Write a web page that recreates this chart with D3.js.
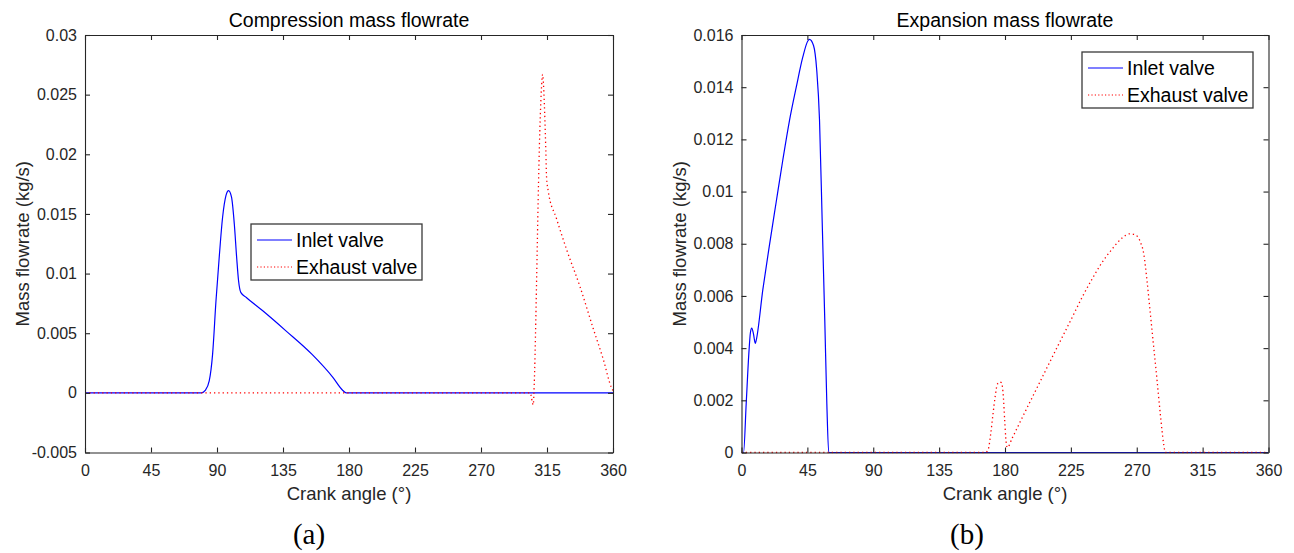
<!DOCTYPE html>
<html>
<head>
<meta charset="utf-8">
<script src="https://cdn.jsdelivr.net/npm/d3@7"></script>
<style>
  html, body { margin: 0; padding: 0; background: #fff; }
  svg { display: block; }
  text { font-family: "Liberation Sans", Arial, sans-serif; }
</style>
</head>
<body>
<svg id="chart" width="1294" height="553"></svg>
<script>
// ---------- data ----------
const xTicks = [0, 45, 90, 135, 180, 225, 270, 315, 360];
const compYTicks = [-0.005, 0, 0.005, 0.01, 0.015, 0.02, 0.025, 0.03];
const compYLabels = ["-0.005", "0", "0.005", "0.01", "0.015", "0.02", "0.025", "0.03"];
const expYTicks = [0, 0.002, 0.004, 0.006, 0.008, 0.01, 0.012, 0.014, 0.016];
const expYLabels = ["0", "0.002", "0.004", "0.006", "0.008", "0.01", "0.012", "0.014", "0.016"];

const seriesNames = ["Inlet valve", "Exhaust valve"];

// Compression - inlet valve
const compInletAngle = [0, 79.5, 82, 84.7, 87, 89.3, 91.5, 93.8, 96.1, 97.9, 99.9, 101.8, 103.4, 104.7, 106.3, 110, 121, 137, 155, 169, 175.8, 178, 360];
const compInletFlow  = [0, 0, 0.0002, 0.001, 0.00325, 0.0077, 0.01135, 0.0147, 0.01653, 0.01695, 0.0164, 0.01415, 0.01135, 0.0094, 0.0084, 0.008, 0.0069, 0.0052, 0.0032, 0.0013, 0.0002, 0, 0];
// Compression - exhaust valve
const compExhaustAngle = [0, 303.5, 305.6, 306.3, 307.4, 308.3, 309.2, 310.4, 311.2, 312, 313.1, 314.2, 314.7, 315.8, 321.5, 328.4, 337.5, 346.5, 353.4, 359.1, 360];
const compExhaustFlow  = [0, 0, -0.001, 0.0007, 0.0063, 0.0119, 0.0175, 0.0231, 0.0255, 0.0267, 0.0245, 0.0203, 0.0181, 0.01695, 0.0146, 0.0120, 0.0089, 0.0054, 0.0028, 0.0004, 0.0002];

// Expansion - inlet valve
const expInletAngle = [0, 1.4, 3.2, 5.0, 6.1, 7.0, 8.2, 9.4, 10.0, 14.6, 19.1, 23.7, 28.2, 32.8, 37.4, 41.9, 45.3, 46.4, 49.2, 51.4, 53.3, 55.1, 56.9, 58.3, 59.6, 360];
const expInletFlow  = [0, 0, 0.00186, 0.00378, 0.0046, 0.00477, 0.00454, 0.00418, 0.00429, 0.00625, 0.00795, 0.0096, 0.0112, 0.01273, 0.014, 0.01516, 0.01577, 0.01583, 0.0156, 0.01465, 0.01273, 0.00889, 0.00505, 0.00186, 0, 0];
// Expansion - exhaust valve
const expExhaustAngle = [0, 166.8, 168.6, 170.2, 171.8, 173.2, 174.8, 176.4, 177.7, 178.9, 179.8, 180.5, 181.6, 185, 191.8, 198.6, 205.5, 212.3, 219.1, 225.9, 232.7, 239.5, 246.4, 253.2, 260, 265.2, 269.1, 272.5, 274.8, 277, 279.3, 281.6, 283.9, 286.1, 288.4, 289.5, 360];
const expExhaustFlow  = [0, 0, 0.00013, 0.0007, 0.00147, 0.00211, 0.00262, 0.0027, 0.00267, 0.00211, 0.00122, 0.00058, 0.00019, 0.00056, 0.00134, 0.00211, 0.00289, 0.00366, 0.00442, 0.00518, 0.00595, 0.00665, 0.00729, 0.0078, 0.00822, 0.00838, 0.00834, 0.00806, 0.00761, 0.00659, 0.00531, 0.00403, 0.00275, 0.00147, 0.00032, 0, 0];

// ---------- drawing ----------
const svg = d3.select("#chart");
svg.append("rect").attr("width", 1294).attr("height", 553).attr("fill", "#fff");

const AX = "#262626";

function zip(a, v) { return a.map((d, i) => [d, v[i]]); }

function panel(opts) {
  const { left, right, top, bottom, yDomain, yTicks, yLabels, title, inlet, exhaust, legend, tag, tagX } = opts;
  const x = d3.scaleLinear().domain([0, 360]).range([left, right]);
  const y = d3.scaleLinear().domain(yDomain).range([bottom, top]);
  const g = svg.append("g");
  const clipId = "clip" + Math.round(left);
  svg.append("clipPath").attr("id", clipId).append("rect")
    .attr("x", left).attr("y", top - 1).attr("width", right - left).attr("height", bottom - top + 2);

  // lines
  const line = d3.line().x(d => x(d[0])).y(d => y(d[1])).curve(d3.curveMonotoneX);
  g.append("path").datum(inlet).attr("d", line)
    .attr("fill", "none").attr("stroke", "#0000ff").attr("stroke-width", 1.2)
    .attr("clip-path", `url(#${clipId})`);
  g.append("path").datum(exhaust).attr("d", line)
    .attr("fill", "none").attr("stroke", "#ff0000").attr("stroke-width", 1.3)
    .attr("stroke-dasharray", "1.3,3")
    .attr("clip-path", `url(#${clipId})`);

  // axes
  const fmtY = d => yLabels[yTicks.indexOf(d)];
  const axB = g.append("g").attr("transform", `translate(0,${bottom})`)
    .call(d3.axisBottom(x).tickValues(xTicks).tickSize(-5).tickSizeOuter(0).tickPadding(12));
  const axT = g.append("g").attr("transform", `translate(0,${top})`)
    .call(d3.axisTop(x).tickValues(xTicks).tickSize(-5).tickSizeOuter(0).tickFormat(""));
  const axL = g.append("g").attr("transform", `translate(${left},0)`)
    .call(d3.axisLeft(y).tickValues(yTicks).tickSize(-5).tickSizeOuter(0).tickPadding(8).tickFormat(fmtY));
  const axR = g.append("g").attr("transform", `translate(${right},0)`)
    .call(d3.axisRight(y).tickValues(yTicks).tickSize(-5).tickSizeOuter(0).tickFormat(""));
  [axB, axT, axL, axR].forEach(a => {
    a.selectAll("path.domain").attr("stroke", AX).attr("stroke-width", 1.1);
    a.selectAll(".tick line").attr("stroke", AX).attr("stroke-width", 1.1);
    a.selectAll(".tick text").attr("fill", AX).style("font-size", "16px")
      .style("font-family", '"Liberation Sans", Arial, sans-serif');
  });

  const cx = (left + right) / 2;
  g.append("text").attr("x", cx).attr("y", 27).attr("text-anchor", "middle")
    .style("font-size", "19.5px").attr("fill", "#000").text(title);
  g.append("text").attr("x", cx).attr("y", 500).attr("text-anchor", "middle")
    .style("font-size", "18.5px").attr("fill", AX).text("Crank angle (°)");
  g.append("text").attr("transform", `translate(${left - 56},${(top + bottom) / 2}) rotate(-90)`)
    .attr("text-anchor", "middle").style("font-size", "18.5px").attr("fill", AX)
    .text("Mass flowrate (kg/s)");
  g.append("text").attr("x", tagX).attr("y", 544).attr("text-anchor", "middle")
    .style("font-family", '"Liberation Serif", "Times New Roman", serif').style("font-size", "29px")
    .attr("fill", "#000").text(tag);

  // legend
  const lg = g.append("g").attr("transform", `translate(${legend[0]},${legend[1]})`);
  lg.append("rect").attr("x", 0).attr("y", 0).attr("width", 171).attr("height", 56)
    .attr("fill", "#fff").attr("stroke", "#3a3a3a").attr("stroke-width", 1.3);
  const styles = [{ c: "#0000ff", d: null, w: 1.2 }, { c: "#ff0000", d: "1.2,2.2", w: 1.2 }];
  seriesNames.forEach((name, i) => {
    const yy = 16 + i * 27;
    const l = lg.append("line").attr("x1", 6).attr("x2", 41).attr("y1", yy).attr("y2", yy)
      .attr("stroke", styles[i].c).attr("stroke-width", styles[i].w);
    if (styles[i].d) l.attr("stroke-dasharray", styles[i].d);
    lg.append("text").attr("x", 45).attr("y", yy).attr("dy", "0.35em")
      .style("font-size", "19.5px").attr("fill", "#000").text(name);
  });
}

panel({
  left: 85, right: 613, top: 35, bottom: 452.5,
  yDomain: [-0.005, 0.03], yTicks: compYTicks, yLabels: compYLabels,
  title: "Compression mass flowrate",
  inlet: zip(compInletAngle, compInletFlow),
  exhaust: zip(compExhaustAngle, compExhaustFlow),
  legend: [251, 224], tag: "(a)", tagX: 309
});
panel({
  left: 741.5, right: 1268.5, top: 35, bottom: 452.5,
  yDomain: [0, 0.016], yTicks: expYTicks, yLabels: expYLabels,
  title: "Expansion mass flowrate",
  inlet: zip(expInletAngle, expInletFlow),
  exhaust: zip(expExhaustAngle, expExhaustFlow),
  legend: [1082, 52], tag: "(b)", tagX: 967
});
</script>
</body>
</html>
